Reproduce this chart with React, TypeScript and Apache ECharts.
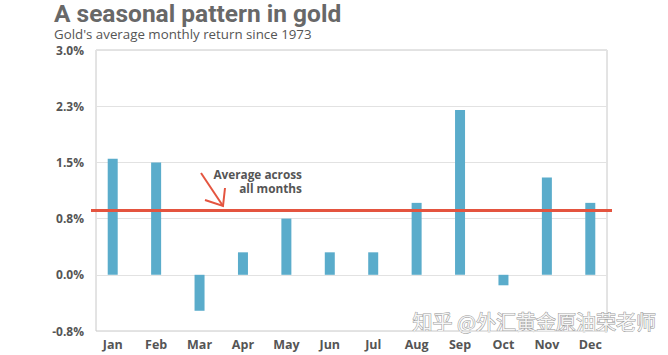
import React, { useEffect, useRef } from "react";
import * as echarts from "echarts";

const months = ["Jan", "Feb", "Mar", "Apr", "May", "Jun", "Jul", "Aug", "Sep", "Oct", "Nov", "Dec"];
const returns = [1.55, 1.5, -0.48, 0.3, 0.75, 0.3, 0.3, 0.96, 2.2, -0.14, 1.3, 0.96];
const averageReturn = 0.86;
const yTickValues = [-0.75, 0, 0.75, 1.5, 2.25, 3.0];
const yTickLabels = ["-0.8%", "0.0%", "0.8%", "1.5%", "2.3%", "3.0%"];

const labelFor = (v: number) => {
  const i = yTickValues.findIndex((t) => Math.abs(t - v) < 1e-6);
  return i >= 0 ? yTickLabels[i] : "";
};

export default function App() {
  const ref = useRef<HTMLDivElement>(null);
  useEffect(() => {
    const chart = echarts.init(ref.current!, null, { renderer: "svg" });
    const top = 50;
    const bottom = 355 - 331;
    chart.setOption({
      animation: false,
      backgroundColor: "#fff",
      title: [
        {
          text: "A seasonal pattern in gold",
          left: 54,
          top: 1,
          padding: 0,
          textStyle: { fontFamily: "Roboto", fontWeight: "bold", fontSize: 24.5, lineHeight: 24, color: "#686868" },
        },
        {
          text: "Gold's average monthly return since 1973",
          left: 54,
          top: 27,
          padding: 0,
          textStyle: { fontFamily: "Open Sans", fontWeight: "normal", fontSize: 13.3, lineHeight: 14, color: "#555" },
        },
      ],
      grid: [
        { left: 96, right: 668 - 607, top, bottom, show: true, borderColor: "#c8c8c8", borderWidth: 1, backgroundColor: "transparent" },
        { left: 91, right: 668 - 612, top, bottom },
      ],
      xAxis: [
        { type: "category", gridIndex: 0, data: months, show: false },
        {
          type: "category",
          gridIndex: 1,
          data: months,
          axisLine: { show: false },
          axisTick: { show: false },
          axisLabel: { fontFamily: "Open Sans", fontWeight: "bold", fontSize: 12.5, color: "#555", margin: 7 },
        },
      ],
      yAxis: [
        {
          type: "value",
          gridIndex: 0,
          min: -0.75,
          max: 3.0,
          interval: 0.75,
          axisLine: { show: false },
          axisTick: { show: false },
          splitLine: { lineStyle: { color: "#e2e2e2", width: 1 } },
          axisLabel: {
            formatter: (v: number) => labelFor(v),
            fontFamily: "Open Sans",
            fontWeight: "bold",
            fontSize: 12,
            color: "#555",
            margin: 12,
          },
        },
        { type: "value", gridIndex: 1, min: -0.75, max: 3.0, interval: 0.75, show: false },
      ],
      series: [
        {
          type: "bar",
          xAxisIndex: 1,
          yAxisIndex: 1,
          data: returns,
          barWidth: 10,
          itemStyle: { color: "#5aaccb" },
          markLine: {
            symbol: "none",
            silent: true,
            label: { show: false },
            lineStyle: { color: "#e4543f", width: 3, type: "solid" },
            data: [{ yAxis: averageReturn }],
          },
        },
      ],
      graphic: [
        {
          type: "text",
          x: 302,
          y: 167,
          style: {
            text: "Average across",
            align: "right",
            fontFamily: "Open Sans",
            fontWeight: "bold",
            fontSize: 11.8,
            lineHeight: 13,
            fill: "#555",
          },
        },
        {
          type: "text",
          x: 302,
          y: 181,
          style: {
            text: "all months",
            align: "right",
            fontFamily: "Open Sans",
            fontWeight: "bold",
            fontSize: 11.8,
            lineHeight: 13,
            fill: "#555",
          },
        },
        {
          type: "line",
          shape: { x1: 201, y1: 173, x2: 223, y2: 206 },
          style: { stroke: "#e4543f", lineWidth: 2 },
        },
        {
          type: "polyline",
          shape: { points: [[205, 200], [223, 206], [225, 188]] },
          style: { stroke: "#e4543f", lineWidth: 2, fill: "none" },
        },
        {
          type: "text",
          left: 412,
          top: 311,
          style: {
            text: "知乎 @外汇黄金原油荣老师",
            fontFamily: "Noto Sans CJK SC",
            fontSize: 20,
            lineHeight: 21,
            fill: "rgba(255,255,255,0.85)",
            stroke: "#9a9a9a",
            lineWidth: 1,
          },
        },
      ],
    });
    return () => chart.dispose();
  }, []);
  return <div ref={ref} style={{ position: "fixed", left: 0, top: 0, width: 668, height: 355 }} />;
}
